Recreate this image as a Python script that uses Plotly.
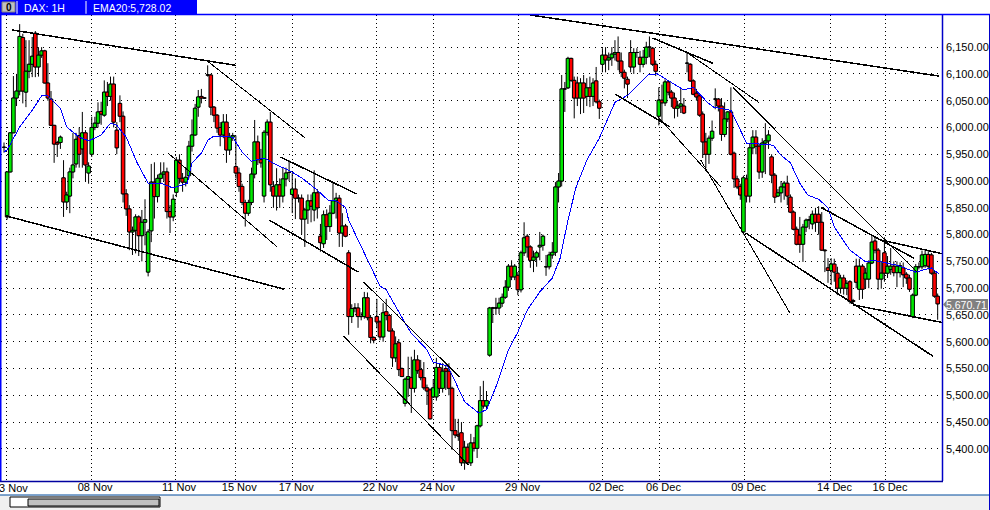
import plotly.graph_objects as go

opens = [
5963,5833,5917,5990,6055,6068,6168,6066,6105,6118,
6176,6113,6135,6143,6083,6053,6004,5972,5972,5906,
5861,5872,5917,5932,5985,5960,5990,5915,5950,6000,
6008,6030,6023,6066,6058,6081,5995,6045,6021,5876,
5848,5805,5808,5833,5798,5823,5730,5807,5898,5871,
5905,5913,5917,5843,5833,5879,5939,5905,5898,5910,
5965,5986,6038,6058,6055,6098,6098,6038,6023,6000,
5986,6010,5958,5982,5927,5915,5890,5860,5840,5860,
5913,5973,5940,5872,5991,6010,5890,5872,5893,5872,
5904,5916,5875,5885,5868,5868,5829,5846,5863,5846,
5878,5797,5783,5837,5815,5840,5863,5868,5803,5816,
5766,5647,5662,5663,5647,5647,5682,5645,5608,5647,
5637,5609,5656,5649,5620,5570,5598,5550,5485,5530,
5533,5513,5566,5548,5533,5514,5510,5497,5497,5552,
5513,5550,5545,5513,5434,5426,5430,5374,5403,5374,
5411,5401,5443,5490,5480,5575,5663,5663,5663,5672,
5683,5702,5741,5721,5724,5697,5766,5797,5777,5752,
5758,5777,5780,5740,5740,5762,5767,5889,5900,6072,
6074,6129,6088,6083,6055,6083,6058,6074,6058,6087,
6048,6118,6135,6126,6130,6137,6140,6124,6103,6090,
6140,6113,6140,6131,6118,6131,6150,6148,6118,6021,
6051,6046,6085,6066,6055,6036,6040,6040,6120,6118,
6087,6064,6059,6025,5973,5950,5980,6053,6053,6040,
5987,6016,6029,5952,5904,5890,5805,5904,5872,5962,
5982,5965,5917,5971,5975,5945,5911,5872,5878,5889,
5896,5870,5842,5810,5799,5782,5814,5827,5820,5838,
5838,5823,5771,5738,5733,5745,5728,5700,5719,5700,
5712,5677,5741,5698,5741,5717,5717,5747,5788,5771,
5717,5766,5728,5735,5741,5729,5729,5738,5726,5719,
5647,5687,5740,5740,5742,5763,5762,5728,5685]

highs = [
5972,5917,5990,6096,6100,6193,6175,6163,6163,6169,
6180,6150,6150,6145,6120,6068,6004,5975,5985,5939,
5880,5925,5990,5990,6000,6029,5995,5935,6020,6020,
6047,6048,6088,6085,6095,6095,6010,6060,6030,5885,
5855,5815,5838,5836,5846,5866,5810,5932,5935,5912,
5935,5935,5925,5855,5875,5945,5950,5915,5925,5975,
6015,6044,6070,6072,6055,6116,6100,6040,6025,6010,
6025,6025,5990,5990,5985,5925,5895,5865,5865,5925,
6014,5985,5960,5995,6015,6029,5900,5924,5905,5925,
5925,5939,5915,5905,5875,5875,5850,5875,5875,5920,
5885,5820,5845,5847,5855,5896,5878,5874,5840,5820,
5771,5670,5672,5672,5655,5693,5692,5650,5610,5680,
5640,5672,5680,5652,5625,5610,5605,5552,5533,5572,
5572,5585,5575,5566,5562,5520,5513,5530,5570,5560,
5560,5557,5560,5516,5456,5456,5450,5415,5410,5428,
5422,5445,5517,5527,5508,5665,5665,5682,5682,5690,
5715,5745,5752,5745,5730,5770,5823,5801,5780,5770,
5770,5805,5800,5762,5768,5786,5898,5915,6098,6085,
6132,6130,6095,6095,6092,6098,6092,6095,6092,6113,
6052,6148,6150,6140,6150,6163,6170,6140,6108,6095,
6163,6148,6148,6143,6145,6160,6170,6150,6125,6075,
6080,6090,6088,6070,6065,6050,6073,6055,6139,6120,
6090,6072,6062,6030,5990,5985,6013,6073,6055,6055,
6047,6030,6075,5955,5910,5895,5910,5912,5970,5995,
5995,5970,5980,6008,5995,5950,5915,5885,5900,5900,
5910,5875,5845,5815,5833,5820,5830,5835,5845,5850,
5853,5842,5772,5756,5756,5755,5740,5725,5725,5715,
5715,5680,5755,5755,5745,5738,5752,5799,5797,5775,
5750,5795,5760,5775,5750,5750,5748,5748,5730,5725,
5690,5745,5748,5770,5773,5770,5766,5732,5690]

lows = [
5953,5828,5917,5990,6040,6060,6045,6038,6092,6094,
6094,6095,6130,6083,6050,6004,5934,5945,5960,5833,
5846,5840,5905,5925,5925,5925,5900,5895,5945,5995,
6000,6005,6020,6040,6050,6000,5950,6010,5860,5835,
5771,5762,5765,5760,5750,5780,5722,5786,5830,5860,
5895,5900,5830,5803,5825,5870,5895,5880,5890,5905,
5955,5985,6020,6045,6055,6095,6023,6010,5990,5965,
5980,5934,5950,5975,5905,5880,5855,5815,5835,5855,
5905,5930,5925,5860,5985,5880,5850,5845,5850,5860,
5890,5900,5840,5829,5860,5800,5777,5820,5823,5825,
5830,5768,5775,5790,5805,5838,5830,5777,5777,5795,
5613,5635,5655,5626,5640,5643,5640,5597,5597,5625,
5603,5600,5640,5620,5553,5562,5536,5535,5479,5497,
5467,5505,5540,5528,5510,5482,5456,5495,5490,5503,
5505,5510,5500,5398,5420,5415,5368,5361,5372,5368,
5395,5383,5440,5475,5476,5572,5635,5650,5652,5665,
5680,5695,5715,5715,5687,5692,5760,5757,5738,5730,
5740,5752,5770,5723,5735,5755,5760,5860,5890,6029,
6072,6085,6017,6040,6025,6027,6040,6038,6040,6045,
6016,6103,6103,6107,6115,6125,6107,6094,6073,6055,
6103,6100,6130,6103,6112,6118,6131,6115,6096,6004,
6010,6040,6060,6038,6017,6020,6027,6025,6103,6085,
6060,6050,6020,5943,5924,5932,5975,6034,6030,5975,
5982,6010,5948,5887,5885,5865,5800,5860,5860,5950,
5950,5904,5906,5913,5960,5896,5859,5870,5860,5865,
5855,5840,5808,5780,5766,5749,5805,5810,5810,5805,
5800,5770,5730,5710,5706,5712,5687,5690,5688,5687,
5671,5672,5700,5678,5680,5700,5700,5745,5765,5697,
5699,5712,5719,5725,5722,5702,5720,5702,5708,5693,
5644,5685,5735,5735,5738,5735,5725,5682,5641]

closes = [
5963,5917,5990,6055,6068,6170,6068,6105,6118,6133,
6113,6135,6143,6083,6055,6004,5969,5969,5982,5861,
5874,5917,5930,5978,5950,5990,5930,5928,6000,6008,
6029,6025,6066,6058,6081,6010,5962,6021,5876,5848,
5805,5808,5833,5798,5823,5828,5805,5898,5871,5905,
5913,5917,5843,5833,5866,5939,5905,5898,5907,5965,
5986,6036,6057,6055,6055,6098,6038,6023,5999,5986,
6010,5958,5982,5985,5915,5890,5860,5840,5860,5913,
5973,5940,5934,5991,6010,5893,5872,5893,5872,5904,
5915,5916,5885,5868,5868,5829,5846,5863,5853,5878,
5850,5785,5837,5815,5840,5863,5868,5803,5816,5797,
5647,5662,5663,5647,5647,5682,5645,5608,5603,5637,
5609,5654,5649,5620,5570,5596,5548,5535,5530,5535,
5513,5566,5546,5533,5514,5508,5456,5514,5552,5513,
5545,5545,5513,5434,5426,5424,5374,5403,5374,5411,
5401,5443,5490,5480,5490,5663,5663,5663,5672,5683,
5702,5741,5721,5741,5697,5766,5794,5777,5752,5758,
5766,5780,5797,5740,5762,5767,5889,5900,6072,6072,
6129,6088,6055,6055,6083,6055,6074,6058,6083,6048,
6036,6135,6126,6130,6137,6140,6124,6103,6092,6081,
6113,6140,6140,6118,6131,6150,6150,6118,6105,6051,
6046,6085,6066,6055,6036,6040,6044,6027,6120,6087,
6062,6057,6023,5973,5950,5980,5993,6053,6040,5987,
6016,6029,5950,5904,5889,5874,5906,5872,5962,5982,
5965,5917,5971,5975,5986,5911,5870,5878,5889,5896,
5872,5842,5810,5782,5782,5814,5827,5828,5838,5823,
5823,5771,5770,5733,5745,5730,5700,5719,5700,5709,
5675,5675,5711,5741,5698,5728,5747,5786,5771,5717,
5728,5728,5741,5741,5729,5741,5742,5725,5719,5698,
5687,5740,5740,5762,5763,5741,5728,5685,5670.71]

bar_index = list(range(len(closes)))

ema_index = [0,1,5,9,12,14,18,20,24,27,31,34,36,39,42.5,46,50,54,58.5,60,63,65,67,73,76,79,83,87,91,95,
             100,103.5,106,109,110,113,116,120,122,125,128,130,135,137,141.5,143.5,147,151.5,154,157.5,
             161,164,167,171,175,177.5,180,182.5,186,190,195,199,205.5,208.5,212,217,220,224.5,226.5,232,
             237,240.5,245.5,248,251,254,256.5,260,263,265,270,275,277.5,285,291,296,298.5]
ema_value = [5954,5958,6001,6032,6059,6059,6036,6001,5982,5975,5986,6008,6004,5982,5934,5896,5896,5887,5896,5934,5952,5976,5984,5982,5954,5937,5943,5930,5920,5906,
             5883,5864,5863,5851,5827,5790,5753,5704,5697,5665,5635,5616,5585,5562,5555,5532,5488,5467,5473,5523,
             5585,5618,5659,5693,5719,5756,5827,5887,5939,5980,6047,6060,6098,6100,6088,6070,6075,6047,6038,6032,
             5971,5969,5967,5948,5934,5896,5874,5866,5850,5814,5771,5749,5752,5743,5730,5738,5726]

# trend lines: (start bar, start price, end bar, end price)
heavy_trends = [
    (2.6,6182,74,6116),(0.6,5835,89.5,5698),(88.2,5945,112.5,5876),(168,6210,298.4,6096),
    (195.2,6062,212.5,6001),(270.9,5669,300.3,5635),(279.9,5790,299.7,5764),(260.7,5851,290.4,5756),
    (207,6167,226.2,6120),(84.7,5827,113.1,5730),(236.7,5803,296.5,5573),
]
thin_trends = [
    (64.9,6124,96.2,5980),(52.4,5952,87.2,5777),(114.7,5712,145.4,5534),(108.3,5611,148.2,5370),
    (218.2,6139,240.9,6047),(232.6,6075,291.7,5728),(208.9,6019,228.8,5889),(222.4,5939,250.8,5654),
]

date_positions = [0.64,27.8,54.6,73.8,92,118.8,137,164.2,191,209.2,236.4,263.8,281.5]
date_labels = ["03 Nov","08 Nov","11 Nov","15 Nov","17 Nov","22 Nov","24 Nov","29 Nov","02 Dec","06 Dec","09 Dec","14 Dec","16 Dec"]
price_ticks = [6150,6100,6050,6000,5950,5900,5850,5800,5750,5700,5650,5600,5550,5500,5450,5400]
last_price = 5670.71

W, H = 990, 510
L, R, T, B = 1, 943, 15, 481
FONT = "Liberation Sans"
X_RANGE = [-0.96, 299.7]
Y_RANGE = [5340, 6210]
GREEN, RED = "#00e800", "#ff0000"


def px(x):
    return (x - L) / (R - L)


def py(y):
    return (B - y) / (B - T)


fig = go.Figure()
# wicks (and a narrow body that the wider bars below cover)
fig.add_trace(go.Candlestick(
    x=bar_index, open=opens, high=highs, low=lows, close=closes, whiskerwidth=0,
    increasing=dict(fillcolor=GREEN, line=dict(color="black", width=1)),
    decreasing=dict(fillcolor=RED, line=dict(color="black", width=1)),
    hoverinfo="skip", showlegend=False))
# full width bodies on an overlaying pair of axes so they lie over the wicks
fig.add_trace(go.Bar(
    x=bar_index, y=[abs(c - o) for o, c in zip(opens, closes)], base=[min(o, c) for o, c in zip(opens, closes)],
    width=1.15, xaxis="x2", yaxis="y2",
    marker=dict(color=[GREEN if c >= o else RED for o, c in zip(opens, closes)], line=dict(color="black", width=1)),
    hoverinfo="skip", showlegend=False))
fig.add_trace(go.Scatter(x=ema_index, y=ema_value, mode="lines", xaxis="x2", yaxis="y2",
                         line=dict(color="#0000ff", width=1), hoverinfo="skip", showlegend=False))
for group, width in ((heavy_trends, 1.5), (thin_trends, 1.0)):
    for a, b, c, d in group:
        fig.add_trace(go.Scatter(x=[a, c], y=[b, d], mode="lines", xaxis="x2", yaxis="y2",
                                 line=dict(color="black", width=width), hoverinfo="skip", showlegend=False))

shapes = []


def rect(x0, y0, x1, y1, fill=None, line=None, lw=1):
    shapes.append(dict(type="rect", xref="paper", yref="paper", x0=px(x0), x1=px(x1), y0=py(y0), y1=py(y1),
                       fillcolor=fill or "rgba(0,0,0,0)", line=dict(color=line or "rgba(0,0,0,0)", width=lw if line else 0),
                       layer="above"))


def seg(x0, y0, x1, y1, color, lw=1):
    shapes.append(dict(type="line", xref="paper", yref="paper", x0=px(x0), x1=px(x1), y0=py(y0), y1=py(y1),
                       line=dict(color=color, width=lw), layer="above"))


rect(0, 495, 990, 510, fill="#f0f0f0")
rect(0, 0, 197, 14, fill="#0000ff")
rect(2, 2, 15, 12, fill="#c0c0c0", line="#808080")
seg(17, 1, 17, 14, "white")
seg(86, 1, 86, 14, "white")
seg(0, 14.5, 990, 14.5, "#0000ff", 1.5)
seg(0.5, 15, 0.5, 481, "#0000ff", 2)
seg(942.5, 15, 942.5, 481, "#0000c8", 1.5)
seg(0, 481.5, 943, 481.5, "#0000a0", 1.5)
seg(0, 495, 990, 495, "#004a9c", 1)
seg(989.5, 15, 989.5, 510, "#0000c8", 1)
rect(10, 497, 160, 507, fill="white", line="black")
rect(28, 499, 159, 506, fill="#c0c0c0", line="black")
shapes.append(dict(type="path", xref="paper", yref="paper", layer="above", fillcolor="#808080", line=dict(width=0),
                   path=f"M {px(943)} {py(304.5)} L {px(948)} {py(299)} L {px(988)} {py(299)} "
                        f"L {px(988)} {py(310)} L {px(948)} {py(310)} Z"))

annotations = [
    dict(text="<b>0</b>", x=px(8.5), y=py(7), font=dict(color="black", size=10, family=FONT), xanchor="center"),
    dict(text="DAX: 1H", x=px(24), y=py(8), font=dict(color="white", size=10.5, family=FONT), xanchor="left"),
    dict(text="EMA20:5,728.02", x=px(93), y=py(8), font=dict(color="white", size=10.5, family=FONT), xanchor="left"),
    dict(text=f"{last_price:,.2f}", x=px(946), y=py(304.5), font=dict(color="white", size=10.5, family=FONT), xanchor="left"),
    dict(text=date_labels[0], x=px(10), y=py(488), font=dict(color="black", size=11, family=FONT), xanchor="center"),
]
for a in annotations:
    a.update(xref="paper", yref="paper", showarrow=False, yanchor="middle", borderpad=0, borderwidth=0,
             xshift=0, yshift=0)

fig.update_layout(
    width=W, height=H, autosize=False,
    margin=dict(l=L, r=W - R, t=T, b=H - B, pad=0),
    paper_bgcolor="white", plot_bgcolor="white",
    boxgap=0.0, barmode="overlay", shapes=shapes, annotations=annotations, showlegend=False,
    hovermode=False, dragmode=False,
    xaxis=dict(range=X_RANGE, rangeslider=dict(visible=False), tickmode="array",
               tickvals=date_positions, ticktext=[""] + date_labels[1:], ticks="", ticklen=0,
               showgrid=True, gridcolor="black", griddash="1px,3px", gridwidth=1, zeroline=False,
               tickfont=dict(family=FONT, size=11, color="black"), ticklabelshift=4, ticklabelstandoff=-2,
               showline=False),
    yaxis=dict(range=Y_RANGE, side="right", tickmode="array", tickvals=price_ticks, tickformat=",.2f",
               ticks="", ticklen=0, showgrid=True, gridcolor="black", griddash="1px,5px", gridwidth=1,
               zeroline=False, tickfont=dict(family=FONT, size=11, color="black"), ticklabelstandoff=2,
               showline=False),
    xaxis2=dict(range=X_RANGE, overlaying="x", visible=False, showgrid=False, zeroline=False),
    yaxis2=dict(range=Y_RANGE, overlaying="y", visible=False, showgrid=False, zeroline=False),
)

fig.write_html("out.html", config={"displayModeBar": False},
               post_script="document.body.style.margin='0';document.documentElement.style.overflow='hidden';"
                           "document.querySelectorAll('.scatterlayer .js-line').forEach(function(e){e.style.shapeRendering='crispEdges';});")
